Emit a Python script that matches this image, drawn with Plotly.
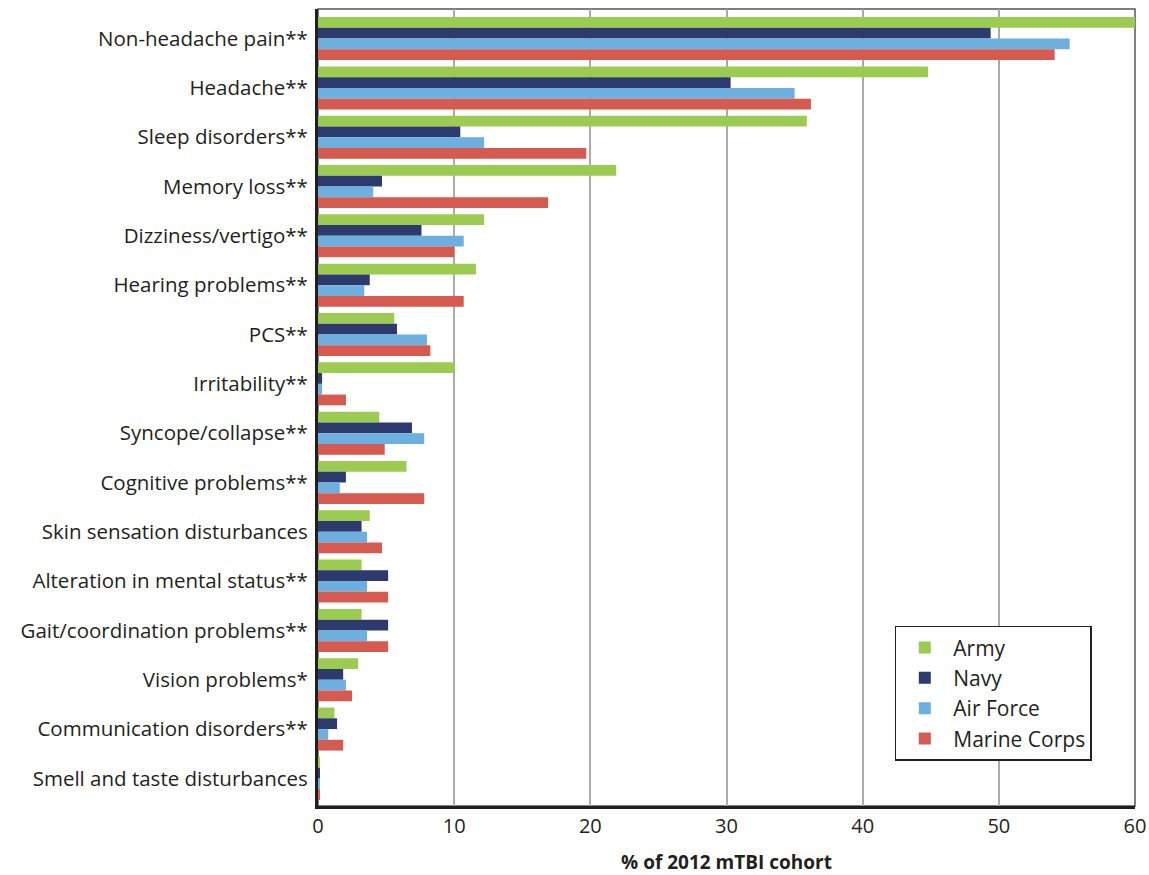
import plotly.graph_objects as go

categories = [
    "Non-headache pain**", "Headache**", "Sleep disorders**", "Memory loss**",
    "Dizziness/vertigo**", "Hearing problems**", "PCS**", "Irritability**",
    "Syncope/collapse**", "Cognitive problems**", "Skin sensation disturbances",
    "Alteration in mental status**", "Gait/coordination problems**",
    "Vision problems*", "Communication disorders**", "Smell and taste disturbances",
]
army = [60.0, 44.8, 35.9, 21.9, 12.2, 11.6, 5.6, 10.0, 4.5, 6.5, 3.8, 3.2, 3.2, 2.95, 1.2, 0.1]
navy = [49.4, 30.3, 10.45, 4.7, 7.6, 3.8, 5.8, 0.3, 6.9, 2.05, 3.2, 5.15, 5.15, 1.85, 1.4, 0.1]
air_force = [55.2, 35.0, 12.2, 4.05, 10.7, 3.4, 8.0, 0.3, 7.8, 1.6, 3.6, 3.6, 3.6, 2.05, 0.75, 0.1]
marine_corps = [54.1, 36.2, 19.7, 16.9, 10.0, 10.7, 8.25, 2.05, 4.9, 7.8, 4.7, 5.15, 5.15, 2.5, 1.85, 0.1]

series = [
    ("Army", army, "#9CCB52"),
    ("Navy", navy, "#2C3A6D"),
    ("Air Force", air_force, "#6DAFDF"),
    ("Marine Corps", marine_corps, "#D55A50"),
]
x_ticks = [0, 10, 20, 30, 40, 50, 60]

FONT = "Open Sans"
TXT = "#231F20"

fig = go.Figure()
for name, vals, color in series:
    fig.add_trace(go.Bar(
        y=categories, x=vals, name=name, orientation="h",
        marker=dict(color=color, line=dict(width=0)),
    ))

fig.update_layout(
    barmode="group",
    bargap=0.128,
    bargroupgap=0,
    width=1149, height=875,
    margin=dict(l=318, r=14, t=9, b=69, autoexpand=False),
    paper_bgcolor="white",
    plot_bgcolor="white",
    font=dict(family=FONT, size=20, color=TXT),
    legend=dict(
        x=0.706, y=0.226, xanchor="left", yanchor="top",
        bgcolor="white", bordercolor=TXT, borderwidth=1.5,
        font=dict(family=FONT, size=21, color=TXT),
        traceorder="normal", tracegroupgap=0,
        itemwidth=47,
    ),
    showlegend=True,
)
fig.update_xaxes(
    range=[0, 60], tickvals=x_ticks, ticktext=[str(v) for v in x_ticks],
    showgrid=True, gridcolor="#ABABAB", gridwidth=2,
    zeroline=False,
    showline=True, linecolor=TXT, linewidth=3, mirror=False,
    ticks="", tickfont=dict(family=FONT, size=20, color=TXT),
    automargin=False,
    title=dict(text="<b>% of 2012 mTBI cohort</b>", font=dict(family=FONT, size=19, color=TXT), standoff=18),
)
fig.update_yaxes(
    range=[len(categories) - 0.44, -0.6],
    showgrid=False, zeroline=False,
    showline=True, linecolor=TXT, linewidth=3,
    ticks="", ticklabelstandoff=3,
    automargin=False,
    tickfont=dict(family=FONT, size=20.5, color=TXT),
)
# thin top/right frame
fig.add_shape(type="rect", xref="paper", yref="paper", x0=0, y0=0, x1=1, y1=1,
              line=dict(color="#555555", width=1.5), layer="below")

fig.write_html(
    "out.html",
    config={"displayModeBar": False},
    post_script="document.body.style.margin='0';document.body.style.overflow='hidden';",
)
